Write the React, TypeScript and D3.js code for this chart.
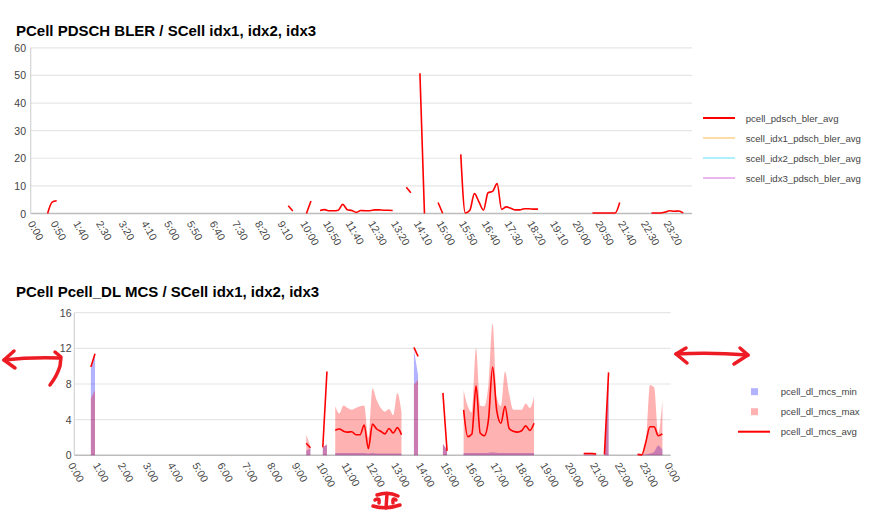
import React from 'react';
import * as d3 from 'd3';

const FONT = '"Liberation Sans", Arial, Helvetica, sans-serif';

// ---------- top chart data ----------
const TOP_TITLE = 'PCell PDSCH BLER / SCell idx1, idx2, idx3';
const TOP_Y_TICKS = [0, 10, 20, 30, 40, 50, 60];
const TOP_X_TICKS = ['0:00', '0:50', '1:40', '2:30', '3:20', '4:10', '5:00', '5:50', '6:40', '7:30', '8:20', '9:10', '10:00', '10:50', '11:40', '12:30', '13:20', '14:10', '15:00', '15:50', '16:40', '17:30', '18:20', '19:10', '20:00', '20:50', '21:40', '22:30', '23:20'];

const BLER_TIMES = [
  '0:30', '0:40', '0:50', '1:00',
  '9:20', '9:30', '9:40',
  '10:00', '10:10', '10:20',
  '10:30', '10:40', '10:50', '11:00', '11:10', '11:20', '11:30', '11:40', '11:50', '12:00', '12:10', '12:20', '12:30', '12:40', '12:50', '13:00', '13:10', '13:20',
  '13:40', '13:50', '14:00',
  '14:10', '14:20', '14:30',
  '14:50', '15:00', '15:10',
  '15:40', '15:50', '16:00', '16:10', '16:20', '16:30', '16:40', '16:50', '17:00', '17:10', '17:20', '17:30', '17:40', '17:50', '18:00', '18:10', '18:20', '18:30', '18:40',
  '20:30', '20:40', '20:50', '21:00', '21:10', '21:20', '21:30', '21:40',
  '22:40', '22:50', '23:00', '23:10', '23:20', '23:30', '23:40', '23:50',
];
const BLER_AVG: (number | null)[] = [
  0, 4.1, 4.6, null,
  2.8, 0.9, null,
  0, 4.5, null,
  1.1, 1.4, 1.0, 1.0, 1.2, 3.3, 1.4, 1.1, 0.4, 1.1, 1.0, 1.0, 1.3, 1.3, 1.2, 1.2, 1.1, null,
  9.5, 7.5, null,
  50.8, 0, null,
  4.0, 0.1, null,
  21.4, 0.2, 1.2, 7.2, 4.2, 1.2, 7.5, 8.0, 10.8, 1.5, 2.4, 1.9, 1.3, 1.3, 1.7, 1.7, 1.6, 1.6, null,
  0.2, 0.2, 0.2, 0.2, 0.2, 0.2, 4.0, null,
  0.2, 0.2, 0.2, 0.5, 1.0, 0.8, 0.9, 0.2,
];
const SCELL1_TIMES: string[] = [];
const SCELL1_AVG: (number | null)[] = [];
const SCELL2_TIMES: string[] = [];
const SCELL2_AVG: (number | null)[] = [];
const SCELL3_TIMES: string[] = [];
const SCELL3_AVG: (number | null)[] = [];

const TOP_SERIES = [
  { name: 'pcell_pdsch_bler_avg', color: '#ff0000', times: BLER_TIMES, values: BLER_AVG },
  { name: 'scell_idx1_pdsch_bler_avg', color: '#ffdca6', times: SCELL1_TIMES, values: SCELL1_AVG },
  { name: 'scell_idx2_pdsch_bler_avg', color: '#aef0fb', times: SCELL2_TIMES, values: SCELL2_AVG },
  { name: 'scell_idx3_pdsch_bler_avg', color: '#e9b8ee', times: SCELL3_TIMES, values: SCELL3_AVG },
];

// ---------- bottom chart data ----------
const BOTTOM_TITLE = 'PCell Pcell_DL MCS / SCell idx1, idx2, idx3';
const BOTTOM_Y_TICKS = [0, 4, 8, 12, 16];
const BOTTOM_X_TICKS = ['0:00', '1:00', '2:00', '3:00', '4:00', '5:00', '6:00', '7:00', '8:00', '9:00', '10:00', '11:00', '12:00', '13:00', '14:00', '15:00', '16:00', '17:00', '18:00', '19:00', '20:00', '21:00', '22:00', '23:00', '0:00'];

const MCS_TIMES = [
  '0:40', '0:50', '1:00',
  '9:20', '9:30', '9:40',
  '10:00', '10:10', '10:20',
  '10:30', '10:40', '10:50', '11:00', '11:10', '11:20', '11:30', '11:40', '11:50', '12:00', '12:10', '12:20', '12:30', '12:40', '12:50', '13:00', '13:10', '13:20',
  '13:40', '13:50', '14:00',
  '14:50', '15:00', '15:10',
  '15:40', '15:50', '16:00', '16:10', '16:20', '16:30', '16:40', '16:50', '17:00', '17:10', '17:20', '17:30', '17:40', '17:50', '18:00', '18:10', '18:20', '18:30', '18:40',
  '20:30', '20:40', '20:50', '21:00', '21:10',
  '21:20', '21:30', '21:40',
  '22:40', '22:50', '23:00', '23:10', '23:20', '23:30', '23:40',
];
const MCS_MIN: (number | null)[] = [
  9.7, 11.2, null,
  0.5, 0.8, null,
  0.9, 1.2, null,
  0.25, 0.25, 0.25, 0.25, 0.25, 0.25, 0.25, 0.25, 0.2, 0.25, 0.2, 0.2, 0.2, 0.2, 0.2, 0.2, 0.2, null,
  11.9, 9.0, null,
  1.3, 0.6, null,
  0.25, 0.25, 0.25, 0.25, 0.25, 0.25, 0.3, 0.35, 0.3, 0.25, 0.25, 0.25, 0.25, 0.25, 0.25, 0.25, 0.25, 0.25, null,
  0.1, 0.1, 0.1, 0.1, null,
  0.1, 9.3, null,
  0.1, 0.1, 0.1, 0.2, 0.4, 1.1, 0.6,
];
const MCS_MAX: (number | null)[] = [
  6.4, 7.3, null,
  2.3, 1.0, null,
  0.9, 1.2, null,
  5.5, 4.7, 5.6, 5.3, 5.1, 5.3, 5.5, 5.6, 2.0, 7.5, 6.2, 5.3, 4.9, 5.2, 4.5, 7.0, 4.8, null,
  7.9, 8.5, null,
  1.3, 0.6, null,
  7.3, 5.5, 4.8, 12.0, 5.6, 5.5, 8.0, 14.8, 6.5, 5.5, 9.4, 6.9, 5.1, 5.1, 5.1, 5.8, 5.3, 6.6, null,
  0.3, 0.3, 0.3, 0.3, null,
  0.1, 9.0, null,
  0.1, 0.1, 1.5, 7.9, 7.6, 2.5, 6.2,
];
const MCS_AVG: (number | null)[] = [
  9.9, 11.4, null,
  1.35, 0.85, null,
  0.9, 9.4, null,
  2.8, 2.95, 2.7, 2.6, 2.65, 2.3, 2.3, 3.4, 0.75, 3.5, 2.95, 2.7, 2.4, 3.0, 2.5, 3.1, 2.3, null,
  12.1, 11.1, null,
  7.0, 0.5, null,
  5.1, 2.1, 2.4, 7.8, 2.5, 2.2, 4.0, 9.9, 5.0, 3.6, 5.5, 3.0, 2.7, 2.6, 2.75, 3.3, 2.8, 3.6, null,
  0.2, 0.2, 0.2, 0.15, null,
  0.1, 9.3, null,
  0.1, 0.05, 1.5, 3.2, 3.2, 2.2, 2.4,
];

const BOTTOM_LEGEND = [
  { name: 'pcell_dl_mcs_min', kind: 'box', color: '#0000ff' },
  { name: 'pcell_dl_mcs_max', kind: 'box', color: '#ff0000' },
  { name: 'pcell_dl_mcs_avg', kind: 'line', color: '#ff0000' },
];

const toMin = (t: string) => {
  const [h, m] = t.split(':').map(Number);
  return h * 60 + m;
};

type Pt = { m: number; v: number | null };
const zip = (times: string[], vals: (number | null)[]): Pt[] => times.map((t, i) => ({ m: toMin(t), v: vals[i] }));

export default function App() {
  // ----- top chart geometry -----
  const tL = 30.7, tR = 692, tT = 47.8, tB = 213.5;
  const tx = d3.scaleLinear().domain([0, 1440]).range([34, 687.8]);
  const ty = d3.scaleLinear().domain([0, 60]).range([tB, tT]);

  // ----- bottom chart geometry -----
  const bL = 74.3, bR = 670.7, bT = 312.7, bB = 455.3;
  const bx = d3.scaleLinear().domain([0, 1440]).range([bL, bR]);
  const by = d3.scaleLinear().domain([0, 16]).range([bB, bT]);

  const topLine = d3
    .line<Pt>()
    .defined((d) => d.v != null)
    .x((d) => tx(d.m))
    .y((d) => ty(d.v as number))
    .curve(d3.curveMonotoneX);

  const bArea = d3
    .area<Pt>()
    .defined((d) => d.v != null)
    .x((d) => bx(d.m))
    .y0(by(0))
    .y1((d) => by(d.v as number))
    .curve(d3.curveMonotoneX);
  const bLine = d3
    .line<Pt>()
    .defined((d) => d.v != null)
    .x((d) => bx(d.m))
    .y((d) => by(d.v as number))
    .curve(d3.curveMonotoneX);

  const minPts = zip(MCS_TIMES, MCS_MIN);
  const maxPts = zip(MCS_TIMES, MCS_MAX);
  const avgPts = zip(MCS_TIMES, MCS_AVG);

  const axisText = '#444';
  const grid = '#e6e6e6';
  const red = '#ed1c24';
  const axisFont = 10.5;
  const legendFont = 9.6;

  return (
    <svg
      width={890}
      height={513}
      style={{ position: 'absolute', left: 0, top: 0, background: '#fff' }}
      fontFamily={FONT}
    >
      <rect x={0} y={0} width={890} height={513} fill="#fff" />

      {/* ================= TOP CHART ================= */}
      <text x={16} y={35.5} fontSize={15} fontWeight="bold" fill="#000">
        {TOP_TITLE}
      </text>
      {TOP_Y_TICKS.map((v) => (
        <g key={'tg' + v}>
          <line x1={tL} x2={tR} y1={ty(v)} y2={ty(v)} stroke={v === 0 ? '#bdbdbd' : grid} strokeWidth={v === 0 ? 1.5 : 1.2} />
          <text x={26} y={ty(v) + 4} fontSize={axisFont} textAnchor="end" fill={axisText}>
            {v}
          </text>
        </g>
      ))}
      <line x1={tL} x2={tL} y1={tT} y2={tB} stroke="#d4d4d4" strokeWidth={1.2} />
      {TOP_X_TICKS.map((t) => {
        const px = tx(toMin(t)) - 3;
        const py = tB + 8;
        return (
          <text
            key={'tx' + t}
            x={px}
            y={py}
            fontSize={axisFont}
            fill={axisText}
            dominantBaseline="central"
            transform={`rotate(60 ${px} ${py})`}
          >
            {t}
          </text>
        );
      })}
      {TOP_SERIES.map((s) => (
        <path key={s.name} d={topLine(zip(s.times, s.values)) || ''} fill="none" stroke={s.color} strokeWidth={1.6} />
      ))}
      {TOP_SERIES.map((s, i) => (
        <g key={'tl' + s.name}>
          <line x1={703} x2={735} y1={118 + i * 20} y2={118 + i * 20} stroke={s.color} strokeWidth={2} />
          <text x={745.7} y={118 + i * 20} fontSize={legendFont} fill={axisText} dominantBaseline="central">
            {s.name}
          </text>
        </g>
      ))}

      {/* ================= BOTTOM CHART ================= */}
      <text x={16} y={297} fontSize={15} fontWeight="bold" fill="#000">
        {BOTTOM_TITLE}
      </text>
      {BOTTOM_Y_TICKS.map((v) => (
        <g key={'bg' + v}>
          <line x1={bL} x2={bR} y1={by(v)} y2={by(v)} stroke={v === 0 ? '#bdbdbd' : grid} strokeWidth={v === 0 ? 1.5 : 1.2} />
          <text x={71.5} y={by(v) + 4} fontSize={axisFont} textAnchor="end" fill={axisText}>
            {v}
          </text>
        </g>
      ))}
      <line x1={bL} x2={bL} y1={bT} y2={bB} stroke="#d4d4d4" strokeWidth={1.2} />
      {BOTTOM_X_TICKS.map((t, i) => {
        const px = bx(i * 60) - 3;
        const py = bB + 8;
        return (
          <text
            key={'bx' + i}
            x={px}
            y={py}
            fontSize={axisFont}
            fill={axisText}
            dominantBaseline="central"
            transform={`rotate(60 ${px} ${py})`}
          >
            {t}
          </text>
        );
      })}
      <path d={bArea(minPts) || ''} fill="#0000ff" fillOpacity={0.3} stroke="none" />
      <path d={bArea(maxPts) || ''} fill="#ff0000" fillOpacity={0.3} stroke="none" />
      <path d={bLine(avgPts) || ''} fill="none" stroke="#ff0000" strokeWidth={1.6} />
      {BOTTOM_LEGEND.map((s, i) => {
        const cy = 391.7 + i * 20;
        return (
          <g key={'bl' + s.name}>
            {s.kind === 'box' ? (
              <rect x={751} y={cy - 3.5} width={7} height={7} fill={s.color} fillOpacity={0.3} />
            ) : (
              <line x1={738} x2={770} y1={cy} y2={cy} stroke={s.color} strokeWidth={2} />
            )}
            <text x={780.7} y={cy} fontSize={legendFont} fill={axisText} dominantBaseline="central">
              {s.name}
            </text>
          </g>
        );
      })}

      {/* ================= hand-drawn annotations ================= */}
      <g fill="none" stroke={red} strokeWidth={3.5} strokeLinecap="round" strokeLinejoin="round">
        <path d="M4 360 Q 30 357 60 358" />
        <path d="M14 351 L4 360 L15 368" />
        <path d="M55 352 L61 357 L60 366 Q 57 376 50 385" />
        <path d="M676 354 Q 710 352 748 355" />
        <path d="M686 348 L676 354 L687 363" />
        <path d="M740 348 L748 355 L734 364" />
        <path d="M377 495 Q 388 491 398 496" />
        <path d="M387 494 L386 508" />
        <path d="M373 506 Q 386 510 400 505" />
        <path d="M375 500 Q 380 497 379 503" />
        <path d="M396 500 Q 392 497 393 503" />
      </g>
    </svg>
  );
}
